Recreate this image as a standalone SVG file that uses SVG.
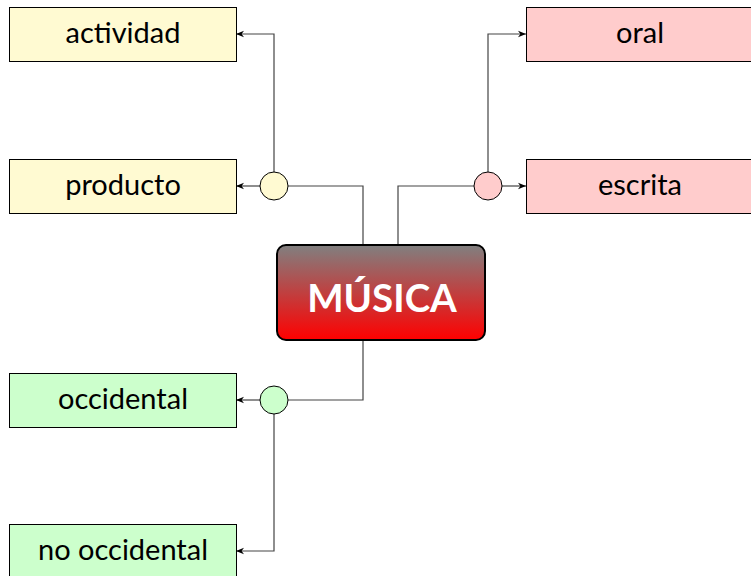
<svg xmlns="http://www.w3.org/2000/svg" width="751" height="576" viewBox="0 0 751 576">
<defs>
<linearGradient id="g" x1="0" y1="0" x2="0" y2="1">
<stop offset="0" stop-color="#808080"/>
<stop offset="1" stop-color="#ff0000"/>
</linearGradient>
<marker id="arr" viewBox="0 0 10 10" refX="10" refY="5" markerWidth="8" markerHeight="8" markerUnits="userSpaceOnUse" orient="auto">
<path d="M0,1 L10,5 L0,9 L3,5 Z" fill="#000"/>
</marker>
<style>
.box{stroke:#000;stroke-width:1}
.y{fill:#fffad2}
.r{fill:#ffcccc}
.gr{fill:#ccffcc}
.t{font-family:Lato,"Liberation Sans",sans-serif;font-size:29px;fill:#000;text-anchor:middle}
.c{stroke:#444;stroke-width:1.2;fill:none}
.a{marker-end:url(#arr)}
</style>
</defs>
<g id="connectors">
<path class="c" d="M363,245 V186 H288"/>
<path class="c a" d="M260,186 H236"/>
<path class="c a" d="M274,172 V34 H236"/>
<path class="c" d="M398,245 V186 H474"/>
<path class="c a" d="M502,186 H526"/>
<path class="c a" d="M488,172 V34 H526"/>
<path class="c" d="M363,340 V400 H288"/>
<path class="c a" d="M260,400 H236"/>
<path class="c a" d="M274,414 V551 H236"/>
</g>
<g id="actividad"><rect class="box y" x="9.5" y="7.5" width="227" height="54"/><text class="t" x="123" y="43">actividad</text></g>
<g id="producto"><rect class="box y" x="9.5" y="159.5" width="227" height="54"/><text class="t" x="123" y="195">producto</text></g>
<g id="oral"><rect class="box r" x="526.5" y="7.5" width="227" height="54"/><text class="t" x="640" y="43">oral</text></g>
<g id="escrita"><rect class="box r" x="526.5" y="159.5" width="227" height="54"/><text class="t" x="640" y="195">escrita</text></g>
<g id="occidental"><rect class="box gr" x="9.5" y="373.5" width="227" height="54"/><text class="t" x="123" y="409">occidental</text></g>
<g id="no-occidental"><rect class="box gr" x="9.5" y="524.5" width="227" height="54"/><text class="t" x="123" y="560">no occidental</text></g>
<g id="musica"><rect x="277" y="245" width="208" height="95" rx="9" fill="url(#g)" stroke="#000" stroke-width="2"/><text x="382" y="312" font-family="Lato,'Liberation Sans',sans-serif" font-size="38.5" font-weight="bold" fill="#fff" text-anchor="middle">MÚSICA</text></g>
<g id="nodo-producto"><circle cx="274" cy="186" r="14" fill="#fffad2" stroke="#000"/></g>
<g id="nodo-oral"><circle cx="488" cy="186" r="14" fill="#ffcccc" stroke="#000"/></g>
<g id="nodo-occidental"><circle cx="274" cy="400" r="14" fill="#ccffcc" stroke="#000"/></g>
</svg>
